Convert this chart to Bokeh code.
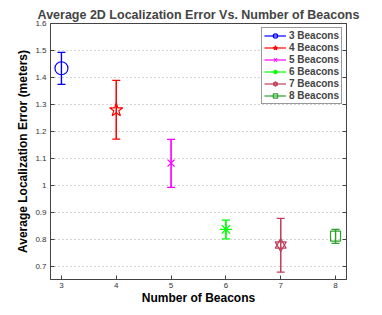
from bokeh.plotting import figure
from bokeh.models import (ColumnDataSource, Whisker, TeeHead, Legend, LegendItem,
                          LinearAxis, FixedTicker, Range1d)
from bokeh.embed import file_html
from bokeh.resources import INLINE

beacons = [3, 4, 5, 6, 7, 8]
labels = ["3 Beacons", "4 Beacons", "5 Beacons", "6 Beacons", "7 Beacons", "8 Beacons"]
mean_err = [1.434, 1.279, 1.082, 0.836, 0.778, 0.811]
upper_err = [1.493, 1.389, 1.170, 0.870, 0.877, 0.836]
lower_err = [1.374, 1.171, 0.992, 0.801, 0.677, 0.784]
colors = ["#0000ff", "#ff0000", "#ff00ff", "#00ff00", "#c0405a", "#2ca02c"]
markers = ["circle", "star", "x", "asterisk", "hexagram", "square"]
x_ticks = [3, 4, 5, 6, 7, 8]
y_ticks = [0.7, 0.8, 0.9, 1.0, 1.1, 1.2, 1.3, 1.4, 1.5, 1.6]
y_tick_labels = ["0.7", "0.8", "0.9", "1", "1.1", "1.2", "1.3", "1.4", "1.5", "1.6"]

FONT = "Liberation Sans"

p = figure(width=366, height=307, output_backend="svg", toolbar_location=None,
           x_range=Range1d(2.8, 8.2), y_range=Range1d(0.65, 1.6),
           min_border_left=50, min_border_right=20, min_border_top=23, min_border_bottom=28,
           title="Average 2D Localization Error Vs. Number of Beacons")
p.title.text_font = FONT
p.title.text_font_size = "12.5px"
p.title.text_font_style = "bold"
p.title.align = "center"
p.title.standoff = 3

p.outline_line_color = "#444444"
p.outline_line_width = 1
p.background_fill_color = "white"
p.border_fill_color = "white"

def style_axis(ax):
    ax.major_tick_in = 4
    ax.major_tick_out = 0
    ax.minor_tick_in = 0
    ax.minor_tick_out = 0
    ax.axis_line_color = "#444444"
    ax.major_tick_line_color = "#444444"
    ax.major_label_text_font = FONT
    ax.major_label_text_font_size = "8px"
    ax.major_label_text_color = "#333333"
    ax.major_label_standoff = 4
    ax.axis_label_text_font = FONT
    ax.axis_label_text_font_style = "bold"
    ax.axis_label_text_font_size = "12px"
    ax.axis_label_text_color = "black"

xax = p.xaxis[0]
yax = p.yaxis[0]
xax.ticker = FixedTicker(ticks=x_ticks)
yax.ticker = FixedTicker(ticks=y_ticks)
yax.major_label_overrides = {t: l for t, l in zip(y_ticks, y_tick_labels)}
xax.axis_label = "Number of Beacons"
yax.axis_label = "Average Localization Error (meters)"
style_axis(xax)
style_axis(yax)
xax.major_label_standoff = 3
xax.axis_label_standoff = 0
yax.axis_label_standoff = 2

rax = LinearAxis(ticker=FixedTicker(ticks=y_ticks))
style_axis(rax)
rax.major_label_overrides = {t: "" for t in y_ticks}
rax.major_label_standoff = 0
p.add_layout(rax, "right")

p.xgrid.visible = False
p.ygrid.ticker = FixedTicker(ticks=y_ticks)
p.ygrid.grid_line_color = "#aaaaaa"
p.ygrid.grid_line_dash = "1 3"
p.ygrid.grid_line_width = 1

sizes = {"circle": 13, "star": 14, "x": 10, "asterisk": 12, "square": 10}
items = []
for i in range(len(beacons)):
    src = ColumnDataSource(dict(x=[beacons[i]], y=[mean_err[i]],
                                up=[upper_err[i]], lo=[lower_err[i]]))
    c = colors[i]
    seg = p.segment(x0="x", y0="lo", x1="x", y1="up", source=src, line_color=c, line_width=1.2)
    w = Whisker(base="x", upper="up", lower="lo", source=src, dimension="height",
                line_color=c, line_width=1.2,
                upper_head=TeeHead(size=8, line_color=c, line_width=1.2),
                lower_head=TeeHead(size=8, line_color=c, line_width=1.2))
    p.add_layout(w)
    rs = [seg]
    m = markers[i]
    if m == "hexagram":
        r1 = p.scatter(x="x", y="y", source=src, marker="triangle", size=11,
                       fill_color=None, line_color=c, line_width=1.2)
        r2 = p.scatter(x="x", y="y", source=src, marker="inverted_triangle", size=11,
                       fill_color=None, line_color=c, line_width=1.2)
        rs += [r1, r2]
    else:
        r = p.scatter(x="x", y="y", source=src, marker=m, size=sizes[m],
                      fill_color=None, line_color=c, line_width=1.2)
        rs.append(r)
    items.append(LegendItem(label=labels[i], renderers=rs))

legend = Legend(items=items, location="top_right", label_text_font=FONT,
                label_text_font_style="bold", label_text_font_size="10px",
                label_height=11, glyph_height=11, glyph_width=22, spacing=1,
                padding=2, margin=4, border_line_color="#333333",
                label_standoff=3)
p.add_layout(legend)

open("out.html", "w").write(file_html(p, INLINE))
